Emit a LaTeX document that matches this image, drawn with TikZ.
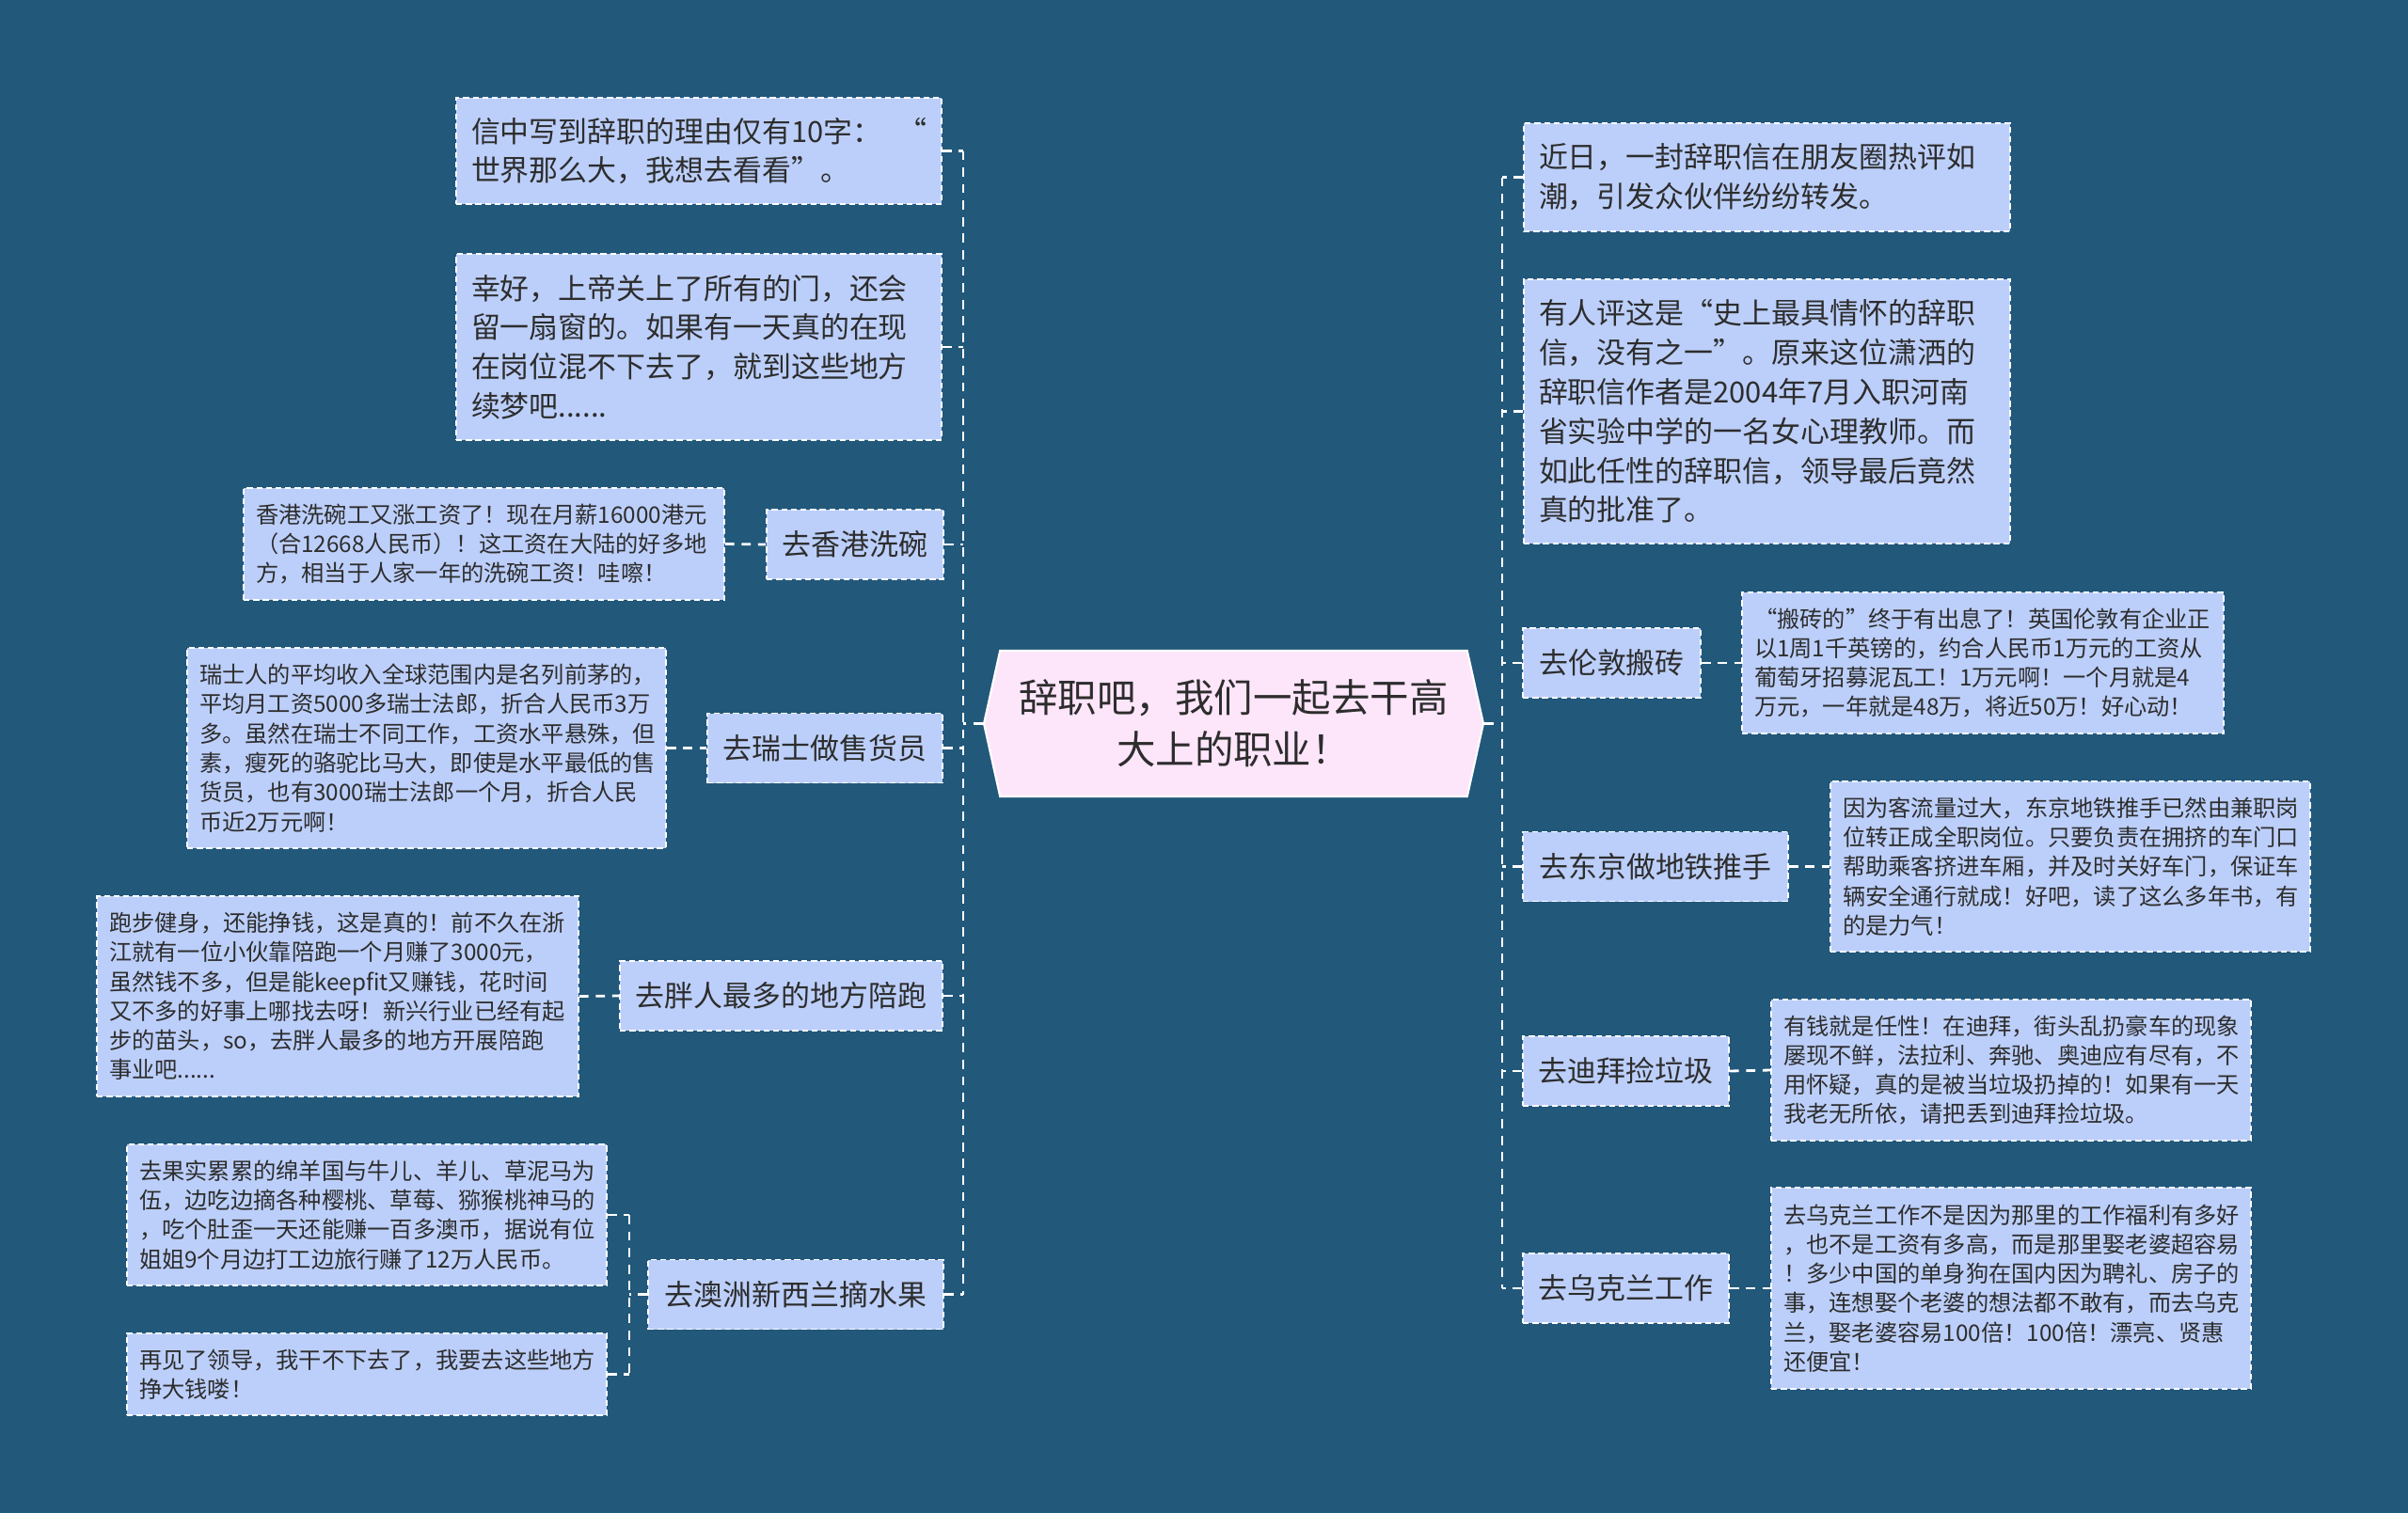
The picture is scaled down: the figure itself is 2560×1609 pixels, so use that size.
\documentclass[tikz,border=0pt]{standalone}
\usepackage{fontspec}
\setmainfont{Noto Sans CJK SC}
\usetikzlibrary{shapes.symbols}
\definecolor{bgblue}{RGB}{34,88,122}
\definecolor{boxblue}{RGB}{188,207,250}
\definecolor{rootpink}{RGB}{253,229,250}
\definecolor{inkgray}{RGB}{45,45,45}
\tikzset{
	link/.style={draw=white, line width=0.8pt, dash pattern=on 2.8pt off 2.2pt},
	card/.style={draw=white, fill=boxblue, line width=0.45pt, dash pattern=on 1.8pt off 1.1pt, text=inkgray, inner ysep=0pt},
	topic/.style={card, font=\fontsize{8.8}{11}\selectfont, align=center, minimum height=7.4mm},
	note/.style={card, font=\fontsize{6.9}{8.9}\selectfont, align=left, inner xsep=1.3mm},
	bignote/.style={card, font=\fontsize{8.8}{11.9}\selectfont, align=left, inner xsep=1.6mm},
	root/.style={shape=signal, signal to=east and west, signal pointer angle=155, draw=white, line width=0.6pt, fill=rootpink, text=inkgray, font=\fontsize{11.8}{15.6}\selectfont, align=center, minimum width=53.1mm, minimum height=15.5mm, inner xsep=0pt}
}
\begin{document}
\begin{tikzpicture}[x=0.1mm, y=-0.1mm]
		\path[use as bounding box, fill=bgblue] (0,0) rectangle (2560,1609);
		\coordinate (tl) at (1024,0);
		\coordinate (tr) at (1597,0);
		\coordinate (ts) at (669,0);
		\node[root] (root) at (1311.5,769.5) {辞职吧，我们一起去干高\\大上的职业！};
		% left side
		\node[bignote, text width=48.4mm, minimum height=11.3mm] (letter) at (743,160.5) {信中写到辞职的理由仅有10字：\hfill“\\世界那么大，我想去看看”。};
		\node[bignote, text width=48.4mm, minimum height=19.8mm] (hope) at (743,369) {幸好，上帝关上了所有的门，还会\\留一扇窗的。如果有一天真的在现\\在岗位混不下去了，就到这些地方\\续梦吧......};
		\node[topic, minimum width=18.8mm] (hongkong) at (909,579) {去香港洗碗};
		\node[note, text width=48.5mm, minimum height=11.9mm] (hongkongtxt) at (514.5,578.5) {香港洗碗工又涨工资了！现在月薪16000港元\\（合12668人民币）！这工资在大陆的好多地\\方，相当于人家一年的洗碗工资！哇嚓！};
		\node[topic, minimum width=25mm] (swiss) at (877,795.5) {去瑞士做售货员};
		\node[note, text width=48.3mm, minimum height=21.3mm] (swisstxt) at (453.5,795.5) {瑞士人的平均收入全球范围内是名列前茅的，\\平均月工资5000多瑞士法郎，折合人民币3万\\多。虽然在瑞士不同工作，工资水平悬殊，但\\素，瘦死的骆驼比马大，即使是水平最低的售\\货员，也有3000瑞士法郎一个月，折合人民\\币近2万元啊！};
		\node[topic, minimum width=34.3mm] (run) at (830.5,1059) {去胖人最多的地方陪跑};
		\node[note, text width=48.6mm, minimum height=21.3mm] (runtxt) at (359,1059.5) {跑步健身，还能挣钱，这是真的！前不久在浙\\江就有一位小伙靠陪跑一个月赚了3000元，\\虽然钱不多，但是能keepfit又赚钱，花时间\\又不多的好事上哪找去呀！新兴行业已经有起\\步的苗头，so，去胖人最多的地方开展陪跑\\事业吧......};
		\node[topic, minimum width=31.4mm] (nz) at (846,1376.5) {去澳洲新西兰摘水果};
		\node[note, text width=48.4mm, minimum height=15mm] (nztxt) at (390,1292) {去果实累累的绵羊国与牛儿、羊儿、草泥马为\\伍，边吃边摘各种樱桃、草莓、猕猴桃神马的\\，吃个肚歪一天还能赚一百多澳币，据说有位\\姐姐9个月边打工边旅行赚了12万人民币。};
		\node[note, text width=48.4mm, minimum height=8.7mm] (nzbye) at (390,1461.5) {再见了领导，我干不下去了，我要去这些地方\\挣大钱喽！};
		% right side
		\node[bignote, text width=48.5mm, minimum height=11.5mm] (news) at (1878.5,188.5) {近日，一封辞职信在朋友圈热评如\\潮，引发众伙伴纷纷转发。};
		\node[bignote, text width=48.5mm, minimum height=28.1mm] (review) at (1878.5,437.5) {有人评这是“史上最具情怀的辞职\\信，没有之一”。原来这位潇洒的\\辞职信作者是2004年7月入职河南\\省实验中学的一名女心理教师。而\\如此任性的辞职信，领导最后竟然\\真的批准了。};
		\node[topic, minimum width=18.9mm] (london) at (1713.5,705) {去伦敦搬砖};
		\node[note, text width=48.6mm, minimum height=15mm] (londontxt) at (2108,705) {“搬砖的”终于有出息了！英国伦敦有企业正\\以1周1千英镑的，约合人民币1万元的工资从\\葡萄牙招募泥瓦工！1万元啊！一个月就是4\\万元，一年就是48万，将近50万！好心动！};
		\node[topic, minimum width=28.2mm] (tokyo) at (1760,921.5) {去东京做地铁推手};
		\node[note, text width=48.4mm, minimum height=18.1mm] (tokyotxt) at (2201,921.5) {因为客流量过大，东京地铁推手已然由兼职岗\\位转正成全职岗位。只要负责在拥挤的车门口\\帮助乘客挤进车厢，并及时关好车门，保证车\\辆安全通行就成！好吧，读了这么多年书，有\\的是力气！};
		\node[topic, minimum width=21.9mm] (dubai) at (1728.5,1139) {去迪拜捡垃圾};
		\node[note, text width=48.4mm, minimum height=15mm] (dubaitxt) at (2138,1138) {有钱就是任性！在迪拜，街头乱扔豪车的现象\\屡现不鲜，法拉利、奔驰、奥迪应有尽有，不\\用怀疑，真的是被当垃圾扔掉的！如果有一天\\我老无所依，请把丢到迪拜捡垃圾。};
		\node[topic, minimum width=21.9mm] (ukraine) at (1728.5,1370) {去乌克兰工作};
		\node[note, text width=48.4mm, minimum height=21.4mm] (ukrainetxt) at (2138,1370) {去乌克兰工作不是因为那里的工作福利有多好\\，也不是工资有多高，而是那里娶老婆超容易\\！多少中国的单身狗在国内因为聘礼、房子的\\事，连想娶个老婆的想法都不敢有，而去乌克\\兰，娶老婆容易100倍！100倍！漂亮、贤惠\\还便宜！};
		% trunks
		\draw[link] (root.west) -- (root.west -| tl);
		\draw[link] (root.east) -- (root.east -| tr);
		\draw[link] (letter.east -| tl) -- (nz.east -| tl);
		\draw[link] (news.west -| tr) -- (ukraine.west -| tr);
		\foreach \n in {letter,hope,hongkong,swiss,run,nz}
			\draw[link] (\n.east) -- (\n.east -| tl);
		\foreach \n in {news,review,london,tokyo,dubai,ukraine}
			\draw[link] (\n.west) -- (\n.west -| tr);
		\foreach \n in {hongkong,swiss,run}
			\draw[link] (\n txt.east) -- (\n.west);
		\foreach \n in {london,tokyo,dubai,ukraine}
			\draw[link] (\n.east) -- (\n txt.west);
		\draw[link] (nz.west) -- (nz.west -| ts);
		\draw[link] (nztxt.east -| ts) -- (nzbye.east -| ts);
		\draw[link] (nztxt.east) -- (nztxt.east -| ts);
		\draw[link] (nzbye.east) -- (nzbye.east -| ts);
	\end{tikzpicture}
\end{document}
